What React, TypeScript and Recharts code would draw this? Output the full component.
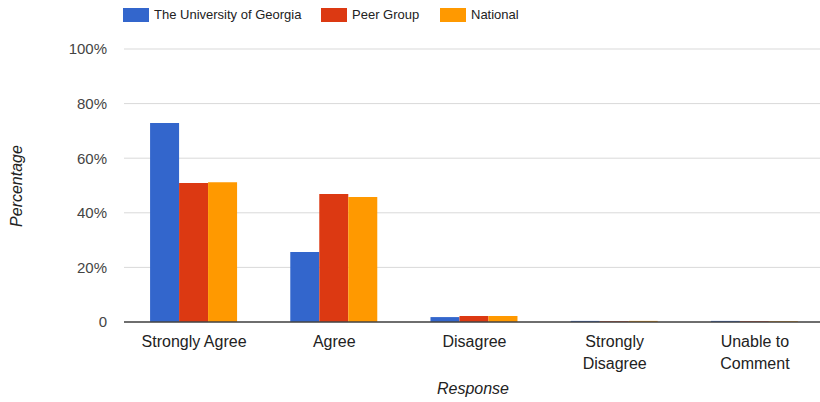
import React from 'react';
import { BarChart, Bar, XAxis, YAxis, CartesianGrid, Legend, Label } from 'recharts';

const categories = ['Strongly Agree', 'Agree', 'Disagree', 'Strongly Disagree', 'Unable to Comment'];
const tickLines: string[][] = [['Strongly Agree'], ['Agree'], ['Disagree'], ['Strongly', 'Disagree'], ['Unable to', 'Comment']];
const uga = [72.9, 25.6, 1.8, 0.4, 0.4];
const peer = [50.9, 46.9, 2.2, 0.3, 0.3];
const national = [51.2, 45.8, 2.2, 0.4, 0.3];
const yTicks = [0, 20, 40, 60, 80, 100];

const seriesNames = ['The University of Georgia', 'Peer Group', 'National'];
const seriesKeys = ['uga', 'peer', 'national'];
const seriesColors = ['#3366cc', '#dc3912', '#ff9900'];
const legendX = [123, 321, 440];

const data = categories.map((c, i) => ({ name: c, idx: i, uga: uga[i], peer: peer[i], national: national[i] }));

const FONT = 'Arial, "Liberation Sans", sans-serif';

const XTick = (props: any) => {
  const { x, y, payload } = props;
  const lines = tickLines[payload.index] ?? [String(payload.value)];
  return (
    <text x={x} y={y} textAnchor="middle" fontFamily={FONT} fontSize={16} fill="#222">
      {lines.map((l, i) => (
        <tspan key={i} x={x} dy={i === 0 ? 17 : 22}>{l}</tspan>
      ))}
    </text>
  );
};

const LegendContent = () => (
  <div style={{ position: 'relative', height: 30, width: 820 }}>
    {seriesNames.map((n, i) => (
      <div key={n} style={{ position: 'absolute', left: legendX[i], top: 8, display: 'flex', alignItems: 'center', fontFamily: FONT, fontSize: 13, color: '#222', whiteSpace: 'nowrap', lineHeight: '14px' }}>
        <div style={{ width: 26, height: 14, background: seriesColors[i], marginRight: 5 }} />
        <span>{n}</span>
      </div>
    ))}
  </div>
);

export default function App() {
  return (
    <div style={{ position: 'absolute', left: 0, top: 0, width: 820, height: 402, background: '#fff' }}>
      <BarChart width={820} height={402} data={data} margin={{ top: 19, right: -5, bottom: 0, left: 0 }} barCategoryGap="18.6%" barGap={0}>
        <Legend verticalAlign="top" align="left" height={30} content={<LegendContent />} wrapperStyle={{ top: 0, left: 0 }} />
        <CartesianGrid vertical={false} stroke="#d9d9d9" strokeWidth={1} />
        <XAxis dataKey="name" height={80} interval={0} tickLine={false} axisLine={{ stroke: '#444', strokeWidth: 1.5 }} tick={<XTick />}>
          <Label content={() => (
            <text x={473} y={388} textAnchor="middle" dominantBaseline="central" fontFamily={FONT} fontSize={16} fontStyle="italic" fill="#222">Response</text>
          )} />
        </XAxis>
        <YAxis width={124} domain={[0, 100]} ticks={yTicks} tickFormatter={(v: number) => (v === 0 ? '0' : `${v}%`)} axisLine={false} tickLine={false} tickSize={0} tickMargin={17} tick={{ fontFamily: FONT, fontSize: 15, fill: '#444' }}>
          <Label content={() => (
            <text x={16} y={186} transform="rotate(-90 16 186)" textAnchor="middle" dominantBaseline="central" fontFamily={FONT} fontSize={16} fontStyle="italic" fill="#222">Percentage</text>
          )} />
        </YAxis>
        {seriesKeys.map((k, i) => (
          <Bar key={k} dataKey={k} name={seriesNames[i]} fill={seriesColors[i]} isAnimationActive={false} />
        ))}
      </BarChart>
    </div>
  );
}
